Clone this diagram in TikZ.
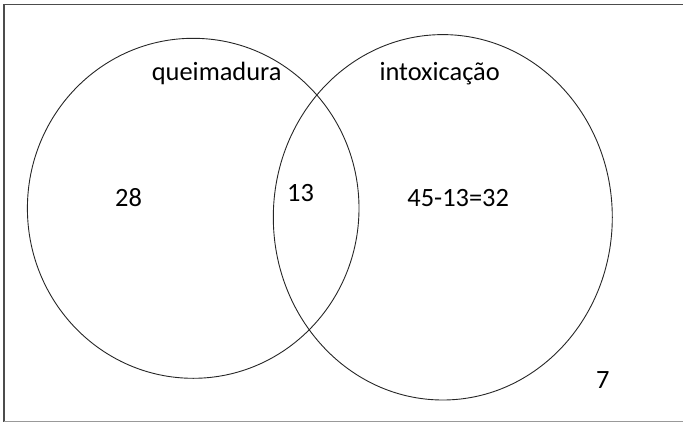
\documentclass[tikz,border=0pt]{standalone}
\usepackage{fontspec}
\setmainfont{Carlito}
\begin{document}
\begin{tikzpicture}[x=1pt,y=-1pt,
  setline/.style={draw=black!85,line width=0.9pt},
  framel/.style={draw=black!70,line width=1.3pt},
  lab/.style={anchor=base,inner sep=0pt,font=\fontsize{26.4}{30}\selectfont}]
\useasboundingbox (0,0) rectangle (683,423);
\coordinate (tr) at (683,4.3);
\coordinate (tl) at (4,4.3);
\coordinate (bl) at (4,421.5);
\coordinate (br) at (683,421.5);
\draw[framel] (tr) -- (tl) -- (bl);
\draw[draw=black!40,line width=1.2pt] (bl) -- (br);
\draw[setline] (193.2,208.3) ellipse [x radius=165.8pt, y radius=170pt];
\draw[setline] (442.8,217.3) ellipse [x radius=169.5pt, y radius=182.7pt];
\node[lab] (q) at (216.7,80) {queimadura};
\node[lab] (i) at (439.7,80) {intoxicação};
\node[lab] (a) at (128.5,206.7) {28};
\node[lab] (b) at (300.5,201) {13};
\node[lab] (c) at (458.2,206.7) {45-13=32};
\node[lab] (d) at (602.8,388.3) {7};
\end{tikzpicture}
\end{document}
